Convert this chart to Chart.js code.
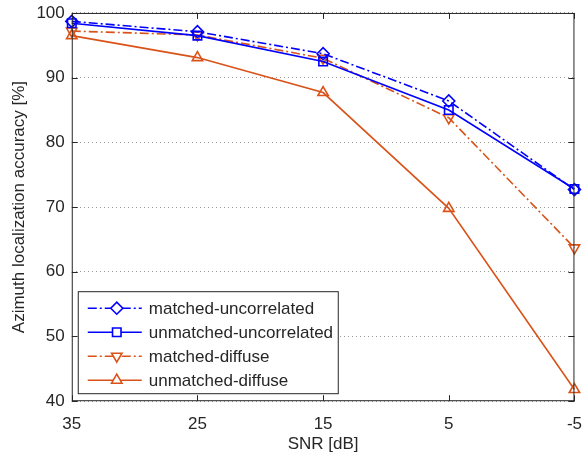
<!DOCTYPE html>
<html>
<head>
<meta charset="utf-8">
<script src="https://cdn.jsdelivr.net/npm/chart.js@4/dist/chart.umd.min.js"></script>
<style>
  html, body { margin: 0; padding: 0; background: #fff; }
  #wrap { width: 587px; height: 460px; }
</style>
</head>
<body>
<div id="wrap"><canvas id="snrChart" width="587" height="460"></canvas></div>
<script>
// SNR values (x axis, reversed)
const snr = [35, 25, 15, 5, -5];
const yTicks = [40, 50, 60, 70, 80, 90, 100];

const matchedUncorr = [98.7, 97.1, 93.7, 86.4, 72.7];
const unmatchedUncorr = [98.4, 96.5, 92.5, 85.0, 72.8];
const matchedDiffuse = [97.2, 96.6, 93.0, 83.8, 63.7];
const unmatchedDiffuse = [96.5, 93.1, 87.7, 69.8, 41.8];

const labels = ["matched-uncorrelated", "unmatched-uncorrelated", "matched-diffuse", "unmatched-diffuse"];

const BLUE = "#0000ff";
const ORANGE = "#d95319";
const FONT = "'Liberation Sans', Arial, sans-serif";
const dashDot = [9, 3, 2, 3];

function pts(vals) {
  return snr.map((x, i) => ({ x: x, y: vals[i] }));
}

function mkSet(label, vals, color, dash, style, rot) {
  return {
    label: label,
    data: pts(vals),
    borderColor: color,
    backgroundColor: color,
    borderWidth: 1.6,
    borderDash: dash,
    pointStyle: style,
    pointRotation: rot || 0,
    pointRadius: 6,
    pointBorderWidth: 1.6,
    pointBackgroundColor: "rgba(0,0,0,0)",
    pointBorderColor: color,
    tension: 0
  };
}

// box, inward ticks and legend inside the axes
const matlabAxes = {
  id: "matlabAxes",
  afterDatasetsDraw(chart) {
    const ctx = chart.ctx;
    const a = chart.chartArea;
    const xs = chart.scales.x, ys = chart.scales.y;
    ctx.save();
    ctx.strokeStyle = "#262626";
    ctx.lineWidth = 1;
    ctx.setLineDash([]);
    ctx.strokeRect(a.left + 0.5, a.top + 0.5, a.right - a.left - 1, a.bottom - a.top - 1);
    const tl = 6;
    ctx.beginPath();
    snr.forEach(v => {
      const px = Math.round(xs.getPixelForValue(v)) + 0.5;
      ctx.moveTo(px, a.bottom); ctx.lineTo(px, a.bottom - tl);
      ctx.moveTo(px, a.top); ctx.lineTo(px, a.top + tl);
    });
    yTicks.forEach(v => {
      const py = Math.round(ys.getPixelForValue(v)) + 0.5;
      ctx.moveTo(a.left, py); ctx.lineTo(a.left + tl, py);
      ctx.moveTo(a.right, py); ctx.lineTo(a.right - tl, py);
    });
    ctx.stroke();

    // legend
    const bx = a.left + 6, by = a.bottom - 110, bw = 260, bh = 102;
    ctx.fillStyle = "#fff";
    ctx.fillRect(bx, by, bw, bh);
    ctx.strokeStyle = "#262626";
    ctx.strokeRect(bx + 0.5, by + 0.5, bw, bh);
    ctx.font = "17px " + FONT;
    ctx.textBaseline = "middle";
    chart.data.datasets.forEach((ds, i) => {
      const cy = by + 17 + i * 24;
      ctx.strokeStyle = ds.borderColor;
      ctx.lineWidth = ds.borderWidth;
      ctx.setLineDash(ds.borderDash || []);
      ctx.beginPath();
      ctx.moveTo(bx + 10, cy); ctx.lineTo(bx + 64, cy);
      ctx.stroke();
      ctx.setLineDash([]);
      ctx.fillStyle = "#fff";
      Chart.helpers.drawPoint(ctx, {
        pointStyle: ds.pointStyle, rotation: ds.pointRotation, radius: ds.pointRadius, borderWidth: ds.pointBorderWidth
      }, bx + 39, cy);
      ctx.fillStyle = "#262626";
      ctx.fillText(ds.label, bx + 71, cy + 1);
    });
    ctx.restore();
  }
};

new Chart(document.getElementById("snrChart").getContext("2d"), {
  type: "line",
  data: {
    datasets: [
      mkSet(labels[0], matchedUncorr, BLUE, dashDot, "rectRot"),
      mkSet(labels[1], unmatchedUncorr, BLUE, [], "rect"),
      mkSet(labels[2], matchedDiffuse, ORANGE, dashDot, "triangle", 180),
      mkSet(labels[3], unmatchedDiffuse, ORANGE, [], "triangle")
    ]
  },
  plugins: [matlabAxes],
  options: {
    responsive: false,
    animation: false,
    clip: false,
    layout: { padding: { top: 0, right: 0, left: 9, bottom: 5 } },
    plugins: { legend: { display: false }, tooltip: { enabled: false } },
    scales: {
      x: {
        type: "linear",
        reverse: true,
        min: -5,
        max: 35,
        afterBuildTicks(scale) { scale.ticks = snr.map(v => ({ value: v })); },
        grid: { display: false },
        border: { display: false },
        ticks: { color: "#262626", font: { size: 17, family: FONT }, padding: 5 },
        title: { display: true, text: "SNR [dB]", color: "#262626", font: { size: 17, family: FONT }, padding: { top: -5, bottom: 0 } }
      },
      y: {
        min: 40,
        max: 100,
        afterBuildTicks(scale) { scale.ticks = yTicks.map(v => ({ value: v })); },
        grid: { color: "#999", lineWidth: 1, drawTicks: false, tickLength: 0 },
        border: { display: false, dash: [1, 3] },
        ticks: { color: "#262626", font: { size: 17, family: FONT, lineHeight: 0.7 }, padding: 7 },
        title: { display: true, text: "Azimuth localization accuracy [%]", color: "#262626", font: { size: 17, family: FONT }, padding: { top: 0, bottom: 0 } }
      }
    }
  }
});
</script>
</body>
</html>
